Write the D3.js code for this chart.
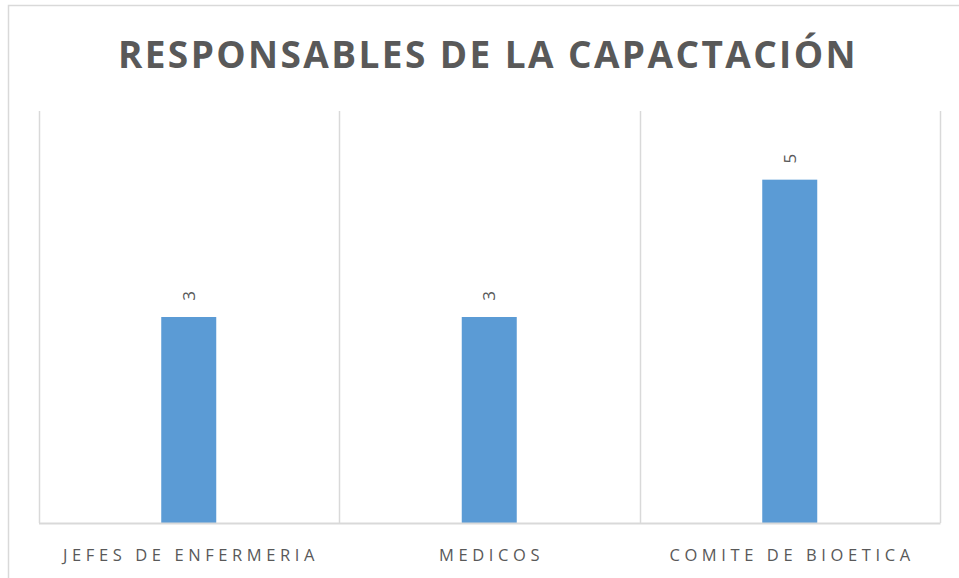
<!DOCTYPE html>
<html>
<head>
<meta charset="utf-8">
<script src="https://cdn.jsdelivr.net/npm/d3@7"></script>
<style>
  body { margin: 0; background: #fff; }
  text { font-family: "Open Sans", Calibri, sans-serif; fill: #595959; }
</style>
</head>
<body>
<div id="chart"></div>
<script>
// data
const categories = ["JEFES DE ENFERMERIA", "MEDICOS", "COMITE DE BIOETICA"];
const values = [3, 3, 5];
const yMax = 6;

// layout
const W = 959, H = 578;
const plot = { left: 38.5, right: 940, top: 111, bottom: 523 };

const svg = d3.select("#chart")
    .append("svg")
    .attr("width", W)
    .attr("height", H);

// outer chart border (only top and left visible in the frame)
svg.append("rect")
    .attr("x", 8.5)
    .attr("y", 5.5)
    .attr("width", 980)
    .attr("height", 600)
    .attr("fill", "none")
    .attr("stroke", "#d9d9d9")
    .attr("stroke-width", 1.5);

// scales
const x = d3.scaleBand()
    .domain(categories)
    .range([plot.left, plot.right])
    .paddingInner(0)
    .paddingOuter(0);

const y = d3.scaleLinear()
    .domain([0, yMax])
    .range([plot.bottom, plot.top]);

// vertical gridlines at category boundaries
const bounds = categories.map(c => x(c)).concat([x(categories[categories.length - 1]) + x.bandwidth()]);
svg.selectAll(".grid")
    .data(bounds)
    .enter()
    .append("line")
    .attr("class", "grid")
    .attr("x1", d => Math.round(d) + 0.5)
    .attr("x2", d => Math.round(d) + 0.5)
    .attr("y1", plot.top)
    .attr("y2", plot.bottom)
    .attr("stroke", "#d9d9d9")
    .attr("stroke-width", 1.5);

// bars
const barW = 55;
svg.selectAll(".bar")
    .data(values)
    .enter()
    .append("rect")
    .attr("class", "bar")
    .attr("x", (d, i) => x(categories[i]) + x.bandwidth() / 2 - barW / 2)
    .attr("y", d => y(d))
    .attr("width", barW)
    .attr("height", d => y(0) - y(d))
    .attr("fill", "#5b9bd5");

// baseline axis
const xAxis = d3.axisBottom(x).tickSize(0).tickPadding(0).tickFormat("");
svg.append("g")
    .attr("transform", `translate(0,${plot.bottom})`)
    .call(xAxis)
    .call(g => g.select(".domain").attr("stroke", "#d9d9d9").attr("stroke-width", 2));

// category labels
const catSpacing = 4.6;
svg.selectAll(".cat")
    .data(categories)
    .enter()
    .append("text")
    .attr("class", "cat")
    .attr("x", d => x(d) + x.bandwidth() / 2 + catSpacing / 2)
    .attr("y", 561)
    .attr("text-anchor", "middle")
    .attr("font-size", 16.5)
    .attr("letter-spacing", catSpacing + "px")
    .text(d => d);

// value labels, rotated
svg.selectAll(".val")
    .data(values)
    .enter()
    .append("text")
    .attr("class", "val")
    .attr("transform", (d, i) => `translate(${x(categories[i]) + x.bandwidth() / 2 + 6},${y(d) - 21}) rotate(-90)`)
    .attr("text-anchor", "middle")
    .attr("font-size", 17)
    .text(d => d);

// title
svg.append("text")
    .attr("x", 488)
    .attr("y", 68)
    .attr("text-anchor", "middle")
    .attr("font-size", 37)
    .attr("font-weight", "bold")
    .attr("letter-spacing", "2.4px")
    .text("RESPONSABLES DE LA CAPACTACIÓN");
</script>
</body>
</html>
